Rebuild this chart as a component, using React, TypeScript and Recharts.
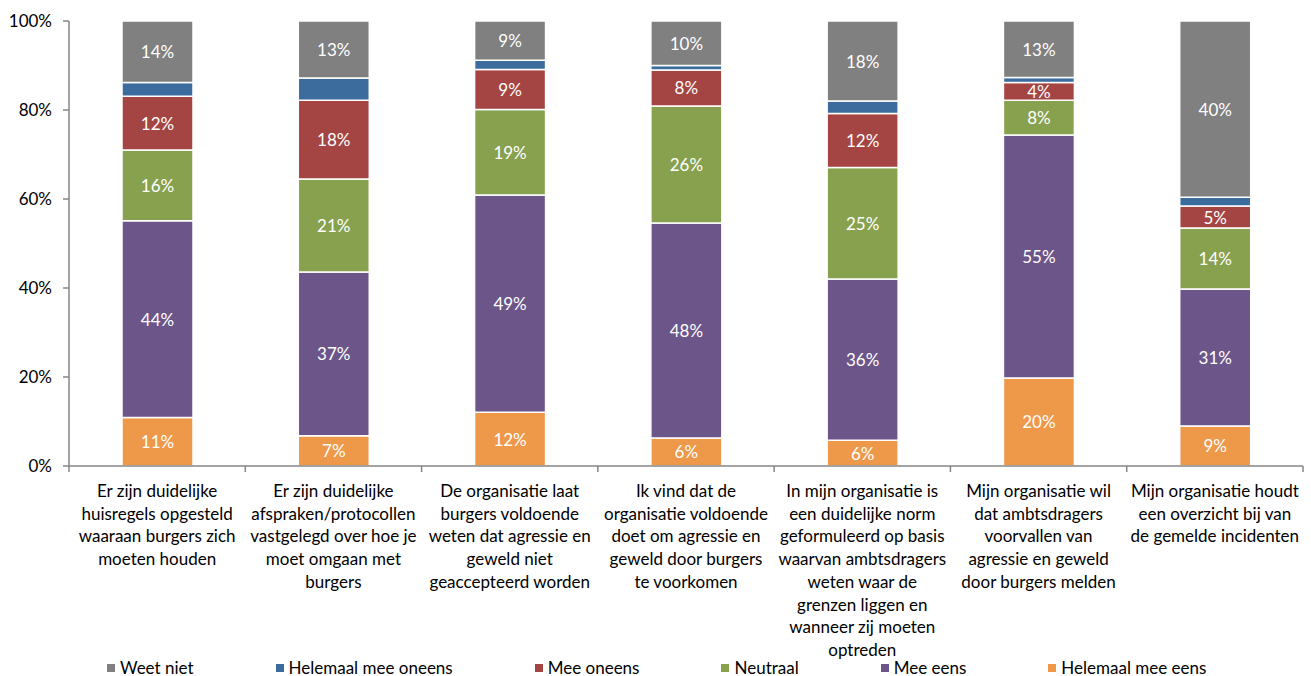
import React from 'react';
import { BarChart, Bar, XAxis, YAxis, Legend, LabelList } from 'recharts';

const FONT = "Lato, 'Noto Sans', sans-serif";

const categoryLines: string[][] = [
  ['Er zijn duidelijke', 'huisregels opgesteld', 'waaraan burgers zich', 'moeten houden'],
  ['Er zijn duidelijke', 'afspraken/protocollen', 'vastgelegd over hoe je', 'moet omgaan met', 'burgers'],
  ['De organisatie laat', 'burgers voldoende', 'weten dat agressie en', 'geweld niet', 'geaccepteerd worden'],
  ['Ik vind dat de', 'organisatie voldoende', 'doet om agressie en', 'geweld door burgers', 'te voorkomen'],
  ['In mijn organisatie is', 'een duidelijke norm', 'geformuleerd op basis', 'waarvan ambtsdragers', 'weten waar de', 'grenzen liggen en', 'wanneer zij moeten', 'optreden'],
  ['Mijn organisatie wil', 'dat ambtsdragers', 'voorvallen van', 'agressie en geweld', 'door burgers melden'],
  ['Mijn organisatie houdt', 'een overzicht bij van', 'de gemelde incidenten'],
];

const helemaalMeeEens = [10.9, 6.8, 12.1, 6.3, 5.8, 19.8, 9.0];
const meeEens = [44.2, 36.8, 48.8, 48.3, 36.2, 54.6, 30.8];
const neutraal = [15.9, 20.9, 19.2, 26.3, 25.1, 7.8, 13.7];
const meeOneens = [12.1, 17.7, 9.0, 8.1, 12.1, 4.0, 4.9];
const helemaalMeeOneens = [3.1, 5.0, 2.1, 1.0, 2.8, 1.1, 2.0];
const weetNiet = [13.8, 12.8, 8.8, 10.0, 18.0, 12.7, 39.6];

const yTicks = [0, 20, 40, 60, 80, 100];

const series = [
  { key: 'helemaalMeeEens', name: 'Helemaal mee eens', color: '#EE9849', values: helemaalMeeEens, label: true },
  { key: 'meeEens', name: 'Mee eens', color: '#6C5589', values: meeEens, label: true },
  { key: 'neutraal', name: 'Neutraal', color: '#88A14E', values: neutraal, label: true },
  { key: 'meeOneens', name: 'Mee oneens', color: '#A44543', values: meeOneens, label: true },
  { key: 'helemaalMeeOneens', name: 'Helemaal mee oneens', color: '#3C6C9E', values: helemaalMeeOneens, label: false },
  { key: 'weetNiet', name: 'Weet niet', color: '#808080', values: weetNiet, label: true },
];

const data = categoryLines.map((lines, i) => {
  const row: any = { category: lines.join(' ') };
  series.forEach((s) => {
    row[s.key] = s.values[i];
  });
  return row;
});

const HALF_BAND = (1303 - 69) / categoryLines.length / 2;

const XTick = (props: any) => {
  const { x, y, index } = props;
  const lines = categoryLines[index] || [];
  const isLast = index === categoryLines.length - 1;
  return (
    <g>
      <line x1={x - HALF_BAND} x2={x - HALF_BAND} y1={y} y2={y + 6} stroke="#868686" strokeWidth={1.5} />
      {isLast && (
        <line x1={x + HALF_BAND} x2={x + HALF_BAND} y1={y} y2={y + 6} stroke="#868686" strokeWidth={1.5} />
      )}
      <text x={x} y={y + 31} textAnchor="middle" fontFamily={FONT} fontSize={17} fill="#000">
        {lines.map((l, i) => (
          <tspan key={i} x={x} dy={i === 0 ? 0 : 22.7}>
            {l}
          </tspan>
        ))}
      </text>
    </g>
  );
};

const SegmentLabel = (props: any) => {
  const { x, y, width, height, value } = props;
  if (value == null) return null;
  return (
    <text
      x={x + width / 2}
      y={y + height / 2}
      textAnchor="middle"
      dominantBaseline="central"
      fontFamily={FONT}
      fontSize={17}
      fill="#fff"
    >
      {Math.round(value)}%
    </text>
  );
};

const LegendContent = () => {
  const items = [...series].reverse();
  return (
    <div style={{ display: 'flex', paddingLeft: 107, gap: 82, alignItems: 'center', fontFamily: FONT, fontSize: 17, color: '#000' }}>
      {items.map((s) => (
        <div key={s.key} style={{ display: 'flex', alignItems: 'center' }}>
          <span style={{ display: 'inline-block', width: 8, height: 8, background: s.color, marginRight: 5 }} />
          <span>{s.name}</span>
        </div>
      ))}
    </div>
  );
};

export default function App() {
  return (
    <div style={{ position: 'absolute', left: 0, top: 0, width: 1311, height: 676, background: '#fff' }}>
      <BarChart width={1311} height={676} data={data} margin={{ top: 21, right: 8, left: 0, bottom: 0 }}>
        <YAxis
          width={69}
          domain={[0, 100]}
          ticks={yTicks}
          tickFormatter={(v: number) => `${v}%`}
          stroke="#868686"
          strokeWidth={1.5}
          tickSize={6}
          tickMargin={11}
          tick={{ fill: '#000', fontSize: 17, fontFamily: FONT }}
          allowDataOverflow
        />
        <XAxis
          dataKey="category"
          height={210}
          stroke="#868686"
          strokeWidth={1.5}
          tickSize={0}
          tickMargin={0}
          tickLine={false}
          interval={0}
          tick={<XTick />}
        />
        {series.map((s) => (
          <Bar
            key={s.key}
            dataKey={s.key}
            name={s.name}
            stackId="a"
            fill={s.color}
            stroke="#fff"
            strokeWidth={1.5}
            barSize={71}
            isAnimationActive={false}
          >
            {s.label && <LabelList dataKey={s.key} content={<SegmentLabel />} />}
          </Bar>
        ))}
        <Legend
          layout="horizontal"
          verticalAlign="middle"
          align="center"
          content={<LegendContent />}
          wrapperStyle={{ position: 'absolute', left: 0, top: 657, width: 1311, height: 22 }}
        />
      </BarChart>
    </div>
  );
}
